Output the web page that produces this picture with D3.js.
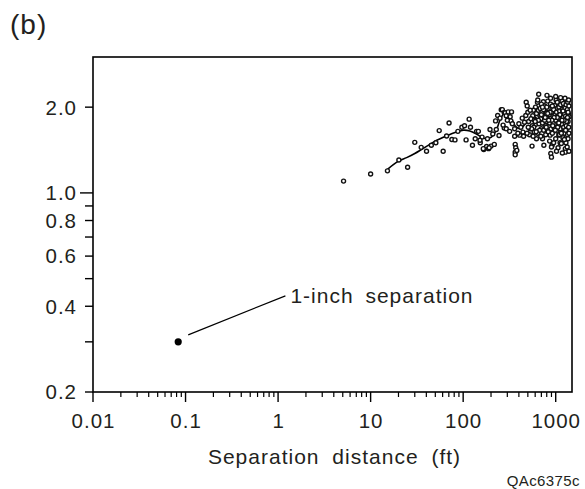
<!DOCTYPE html>
<html>
<head>
<meta charset="utf-8">
<script src="https://cdn.jsdelivr.net/npm/d3@7"></script>
<style>
  body { margin: 0; background: #fff; }
  text { font-family: "Liberation Sans", Arial, sans-serif; fill: #231f20; }
</style>
</head>
<body>
<div id="chart"></div>
<script>
// ===== DATA =====
const xTicks = [0.01, 0.1, 1, 10, 100, 1000];
const xTickLabels = ['0.01', '0.1', '1', '10', '100', '1000'];
const yTicks = [0.2, 0.3, 0.4, 0.5, 0.6, 0.7, 0.8, 0.9, 1.0, 2.0];
const yTickLabels = { 0.2: '0.2', 0.4: '0.4', 0.6: '0.6', 0.8: '0.8', 1.0: '1.0', 2.0: '2.0' };

// [separation (ft), value]
const scatter = [
  [5.1,1.10],[10,1.165],[15.2,1.195],[20.2,1.305],[25.1,1.23],[30,1.505],[35.2,1.445],[40.2,1.40],
  [45.3,1.47],[50.7,1.50],[55.1,1.655],[60.8,1.40],[66.2,1.585],[70.4,1.76],[75.5,1.54],[81.6,1.535],
  [87.7,1.645],[96.9,1.70],[103.5,1.72],[107.5,1.535],[116,1.815],[120,1.70],[126,1.47],[135,1.55],
  [139.6,1.645],[146,1.645],[153,1.50],[160,1.57],[167,1.42],[179,1.455],[188,1.43],[200,1.46],
  [209,1.61],[217,1.48],[224,1.79],[228,1.67],[236,1.87],[244,1.59],[250,1.83],[258,1.96],[265,1.96],
  [278,1.915],[278,1.69],[285,1.91],[292,1.865],[292,1.68],[307,1.925],[318,1.645],[322,1.85],
  [328,1.79],[333,1.925],[360,1.68],[360,1.58],[365,1.48],[370,1.44],[365,1.39],[365,1.36],[380,1.41],
  [400,1.75],[407,1.595],[435,1.83],[443,1.635],[475,1.87],[480,2.08],[492,2.02],[510,1.78],[528,1.68],
  [555,1.46],[565,1.865],[585,1.635],[605,2.0],[605,1.74],[635,2.08],[655,2.22],[675,1.87],[700,1.68],
  [720,1.55],[745,1.47],[735,2.09],[770,1.935],[805,2.20],[820,2.10],[795,1.78],[845,1.71],[870,1.595],
  [885,1.375],[900,1.335],[915,1.47],[930,1.865],[975,2.03],[1010,2.12],[1045,1.98],[1060,1.78],
  [1080,1.595],[1115,1.50],[1150,1.90],[1170,2.10],[1190,1.68],[1230,2.02],[1250,1.83],[1270,1.43],
  [1290,1.50],[1310,1.635],[1330,2.10],[1310,1.935],[1270,1.39],[1150,1.49],
  [183,1.55],[195,1.67],[152,1.53],[165,1.43],[191,1.44],[270,1.73],[300,1.80],[340,1.75],[390,1.62],
  [420,1.70],[450,1.58],[460,1.77],[500,1.92],[520,1.60],[540,1.82],[560,1.72],[575,1.95],[590,1.80],
  [620,1.90],[640,1.62],[650,1.95],[660,1.75],[680,1.98],[690,1.82],[710,1.92],[720,1.76],[740,1.66],
  [750,1.86],[760,2.02],[780,1.72],[790,1.90],[810,1.82],[830,1.98],[850,1.88],[860,1.76],[880,2.05],
  [890,1.68],[905,1.92],[920,1.62],[940,1.76],[950,1.96],[960,1.70],[985,1.88],[1000,1.80],[1020,1.92],
  [1030,1.65],[1040,2.08],[1050,1.86],[1070,1.72],[1085,2.0],[1095,1.82],[1105,1.94],[1120,1.68],
  [1130,2.04],[1140,1.78],[1160,1.86],[1175,1.74],[1180,1.96],[1200,1.84],[1210,2.06],[1220,1.70],
  [1235,1.90],[1240,1.62],[1260,1.98],[1265,1.76],[1280,1.86],[1295,2.04],[1300,1.72],[1320,1.82],
  [1335,1.96],[1340,1.60],[1350,2.08],[1360,1.78],[1370,1.90],[1380,1.70],[1390,2.02],[1395,1.85],
  [1360,1.55],[1330,1.45],[1100,1.60],[1000,1.55],[950,1.50],[900,1.45],[1060,1.44],[1200,1.56],
  [780,1.60],[690,1.58],[620,1.55],[580,1.70],[800,2.0],[640,2.12],[700,2.05],[880,2.15],[1130,2.16],
  [1260,2.15],[1380,2.12],[1390,1.40],[1180,1.38],[1020,1.40],[1000,2.18],[920,2.02],[860,1.52],
  [760,1.80],[830,1.64],[1050,1.70],[1150,1.62],[1240,1.54],[1310,1.78],[1390,1.62],[1360,1.92],
  [1340,1.84],[1280,1.66],[1230,1.80],[1200,1.94],[1170,1.80],[1110,1.88],[1080,1.76],[1040,1.84],
  [990,1.66],[960,1.84],[930,1.72],[910,1.80],[870,1.92],[840,1.80],[820,1.90],[790,1.70],[770,1.84],
  [740,1.96],[720,2.00],[700,1.88],[670,1.66],[650,1.80],[615,1.64],[600,1.78],[570,1.58],[550,1.68],
  [530,1.95],[505,1.70],[490,1.62]
];

// smoothed trend
const trend = [
  [15.2,1.21],[19.8,1.29],[24.5,1.33],[30,1.375],[35.4,1.42],[43.6,1.48],[51.8,1.53],[66,1.585],
  [84.5,1.635],[100,1.66],[118,1.65],[139,1.61],[157,1.57],[179,1.55],[202,1.57],[228,1.66],
  [250,1.80],[278,1.90],[305,1.865],[338,1.80],[370,1.71],[416,1.68],[470,1.75],[528,1.83],
  [597,1.85],[675,1.75],[760,1.73],[870,1.78],[970,1.83],[1100,1.83],[1240,1.78],[1310,1.80]
];

const highlight = { x: 1 / 12, y: 0.3 };
const callout = { x: 1.2, y: 0.435, text: '1-inch separation' };

// ===== LAYOUT =====
const width = 585, height = 489;
const margin = { left: 93, right: 13, top: 57, bottom: 97 };

const svg = d3.select('#chart').append('svg')
  .attr('width', width)
  .attr('height', height);

const x = d3.scaleLog().domain([0.01, 1500]).range([margin.left, width - margin.right]);
const y = d3.scaleLog().domain([0.2, 3]).range([height - margin.bottom, margin.top]);

// frame
svg.append('rect')
  .attr('x', x.range()[0])
  .attr('y', y.range()[1])
  .attr('width', x.range()[1] - x.range()[0])
  .attr('height', y.range()[0] - y.range()[1])
  .attr('fill', 'none')
  .attr('stroke', '#000')
  .attr('stroke-width', 1.6);

// x axis minor ticks
const xMinor = [];
xTicks.forEach(t => {
  for (let k = 2; k <= 9; k++) {
    if (t * k <= 1500) xMinor.push(t * k);
  }
});

const xAxisG = svg.append('g').attr('transform', `translate(0,${y.range()[0]})`);
xAxisG.selectAll('line.minor').data(xMinor).join('line')
  .attr('x1', d => x(d)).attr('x2', d => x(d))
  .attr('y1', 0).attr('y2', 5)
  .attr('stroke', '#000').attr('stroke-width', 1.2);
xAxisG.selectAll('line.major').data(xTicks).join('line')
  .attr('x1', d => x(d)).attr('x2', d => x(d))
  .attr('y1', 0).attr('y2', 10)
  .attr('stroke', '#000').attr('stroke-width', 1.4);
xAxisG.selectAll('text').data(xTicks).join('text')
  .attr('x', d => x(d) + 0.5)
  .attr('y', 36)
  .attr('text-anchor', 'middle')
  .style('font-size', '20.5px')
  .style('letter-spacing', '1px')
  .text((d, i) => xTickLabels[i]);

// y axis ticks
const yAxisG = svg.append('g').attr('transform', `translate(${x.range()[0]},0)`);
yAxisG.selectAll('line').data(yTicks).join('line')
  .attr('x1', d => d === 1.0 ? -13 : -8).attr('x2', 0)
  .attr('y1', d => y(d)).attr('y2', d => y(d))
  .attr('stroke', '#000').attr('stroke-width', 1.4);
yAxisG.selectAll('text').data(yTicks.filter(d => yTickLabels[d])).join('text')
  .attr('x', -16)
  .attr('y', d => y(d))
  .attr('dy', '0.36em')
  .attr('text-anchor', 'end')
  .style('font-size', '20.5px')
  .style('letter-spacing', '1px')
  .text(d => yTickLabels[d]);

// trend line
const line = d3.line()
  .x(d => x(d[0]))
  .y(d => y(d[1]))
  .curve(d3.curveCatmullRom);
svg.append('path')
  .datum(trend)
  .attr('d', line)
  .attr('fill', 'none')
  .attr('stroke', '#000')
  .attr('stroke-width', 1.6);

// scatter points
svg.append('g').selectAll('circle').data(scatter).join('circle')
  .attr('cx', d => x(d[0]))
  .attr('cy', d => y(d[1]))
  .attr('r', 2)
  .attr('fill', '#fff')
  .attr('stroke', '#111')
  .attr('stroke-width', 1.4);

// 1-inch point and callout
svg.append('circle')
  .attr('cx', x(highlight.x))
  .attr('cy', y(highlight.y))
  .attr('r', 3.6)
  .attr('fill', '#000');

svg.append('line')
  .attr('x1', x(highlight.x) + 10)
  .attr('y1', y(highlight.y) - 7)
  .attr('x2', x(callout.x))
  .attr('y2', y(callout.y))
  .attr('stroke', '#000')
  .attr('stroke-width', 1.2);

svg.append('text')
  .attr('x', x(callout.x) + 5)
  .attr('y', y(callout.y))
  .attr('dy', '0.36em')
  .style('font-size', '21px')
  .style('letter-spacing', '1px')
  .style('word-spacing', '5px')
  .text(callout.text);

// axis title
svg.append('text')
  .attr('x', (x.range()[0] + x.range()[1]) / 2 + 2)
  .attr('y', 464)
  .attr('text-anchor', 'middle')
  .style('font-size', '21px')
  .style('letter-spacing', '1px')
  .style('word-spacing', '6px')
  .text('Separation distance (ft)');

// panel label and figure code
svg.append('text')
  .attr('x', 10)
  .attr('y', 34)
  .style('font-size', '28px')
  .style('letter-spacing', '1px')
  .text('(b)');

svg.append('text')
  .attr('x', 580)
  .attr('y', 486)
  .attr('text-anchor', 'end')
  .style('font-size', '15px')
  .style('letter-spacing', '0.4px')
  .text('QAc6375c');
</script>
</body>
</html>
